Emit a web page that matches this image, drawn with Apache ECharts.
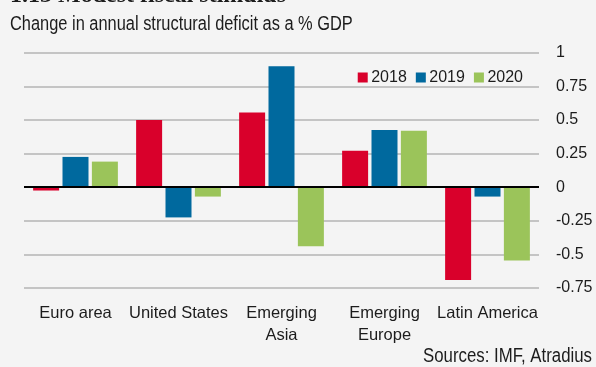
<!DOCTYPE html>
<html>
<head>
<meta charset="utf-8">
<script src="https://cdn.jsdelivr.net/npm/echarts@6/dist/echarts.min.js"></script>
<style>
  html, body { margin: 0; padding: 0; background: #f4f4f4; }
  #chart { width: 596px; height: 367px; }
</style>
</head>
<body>
<div id="chart"></div>
<script>
// Change in annual structural deficit, % of GDP
const categories = ['Euro area', 'United States', 'Emerging\nAsia', 'Emerging\nEurope', 'Latin America'];
const years = ['2018', '2019', '2020'];
const values2018 = [-0.025, 0.50, 0.555, 0.27, -0.69];
const values2019 = [0.225, -0.225, 0.90, 0.425, -0.07];
const values2020 = [0.19, -0.07, -0.44, 0.42, -0.545];
const yMin = -0.75, yMax = 1, yStep = 0.25;

const colors = ['#d9002b', '#00699e', '#9bc45a'];
const sans = '"Liberation Sans", Arial, sans-serif';
const ink = '#1c1c1c';
// condensed look for the heading and source line
const squeeze = 0.82;

const chart = echarts.init(document.getElementById('chart'), null, { renderer: 'canvas' });

const seriesData = [values2018, values2019, values2020];
const series = seriesData.map((vals, i) => ({
  name: years[i],
  type: 'bar',
  data: vals,
  barWidth: 26,
  barGap: '13%',
  itemStyle: { color: colors[i] },
  emphasis: { disabled: true },
  z: 2
}));
// zero baseline
series[0].markLine = {
  silent: true,
  symbol: 'none',
  label: { show: false },
  lineStyle: { color: '#000', width: 2, type: 'solid' },
  data: [{ yAxis: 0 }],
  z: 5
};

chart.setOption({
  backgroundColor: '#f4f4f4',
  animation: false,
  color: colors,
  grid: { left: 24, right: 57, top: 52.7, bottom: 79, containLabel: false },
  legend: {
    data: years,
    right: 68,
    top: 64.5,
    icon: 'rect',
    itemWidth: 10,
    itemHeight: 10,
    itemGap: 9,
    textStyle: { fontFamily: sans, fontSize: 16, color: ink, padding: [0, 0, 0, -1.5] }
  },
  xAxis: {
    type: 'category',
    data: categories,
    axisLine: { show: false },
    axisTick: { show: false },
    axisLabel: {
      interval: 0,
      margin: 14,
      fontFamily: sans,
      fontSize: 16.5,
      lineHeight: 22,
      color: ink
    }
  },
  yAxis: {
    type: 'value',
    position: 'right',
    min: yMin,
    max: yMax,
    interval: yStep,
    axisLine: { show: false },
    axisTick: { show: false },
    axisLabel: {
      margin: 17,
      fontFamily: sans,
      fontSize: 16,
      color: ink
    },
    splitLine: { lineStyle: { color: '#b5b5b5', width: 1.5 } }
  },
  graphic: [
    {
      type: 'text',
      x: 10,
      y: -16,
      style: {
        text: '1.13 Modest fiscal stimulus',
        font: 'bold 24px "Liberation Serif", "DejaVu Serif", serif',
        fill: ink,
        verticalAlign: 'top'
      }
    },
    {
      type: 'text',
      x: 10,
      y: 14,
      scaleX: squeeze,
      style: {
        text: 'Change in annual structural deficit as a % GDP',
        font: '20px ' + sans,
        fill: ink,
        verticalAlign: 'top'
      }
    },
    {
      type: 'text',
      x: 592,
      y: 346,
      scaleX: 0.84,
      style: {
        text: 'Sources: IMF, Atradius',
        font: '20px ' + sans,
        fill: ink,
        align: 'right',
        verticalAlign: 'top'
      }
    }
  ],
  series: series
});
</script>
</body>
</html>
